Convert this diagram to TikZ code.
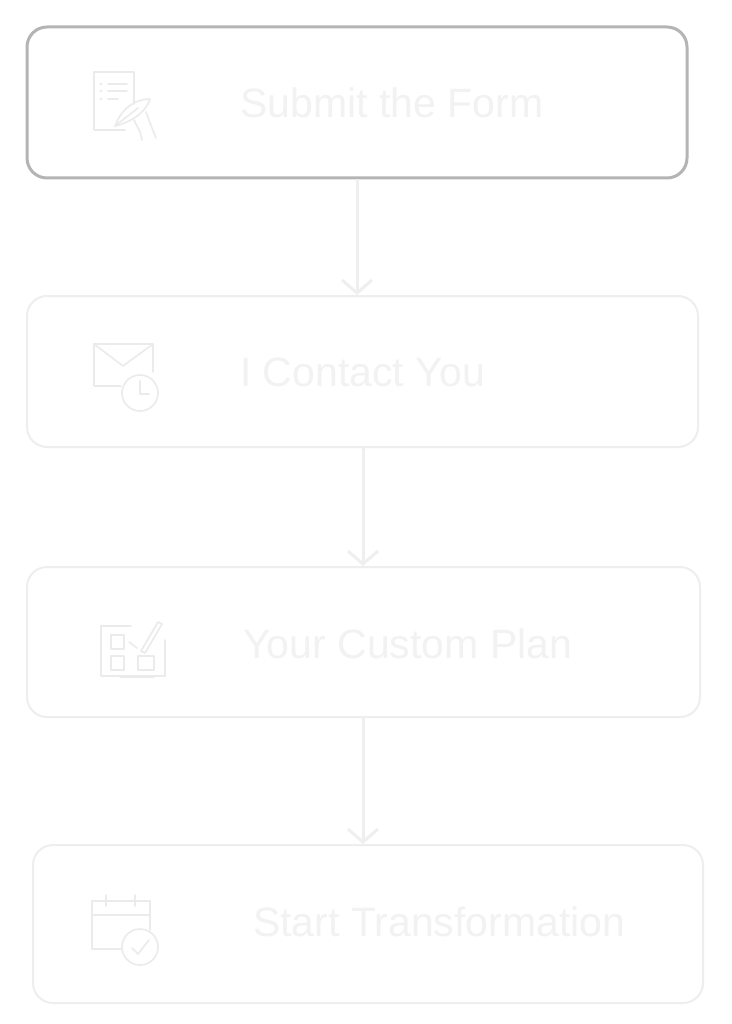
\documentclass[tikz,border=0pt]{standalone}
\usepackage{fontspec}
\setmainfont{Liberation Sans}
\usetikzlibrary{arrows.meta}
\definecolor{boxone}{HTML}{B4B4B4}
\definecolor{boxfaint}{HTML}{EEEEEE}
\definecolor{txtfaint}{HTML}{F2F2F2}
\definecolor{iconfaint}{HTML}{EBEBEB}
\definecolor{arrowfaint}{HTML}{EFEFEF}
\begin{document}
\begin{tikzpicture}[x=1pt,y=-1pt,
  stepbox/.style={draw=boxfaint,line width=2pt,rounded corners=20pt,inner sep=0pt},
  firstbox/.style={stepbox,draw=boxone,line width=3pt},
  steptext/.style={anchor=west,inner sep=0pt,text=txtfaint,font=\fontsize{41}{48}\selectfont},
  icon/.style={draw=iconfaint,line width=1.6pt,line cap=round,line join=round},
  flow/.style={draw=arrowfaint,line width=3pt,-{Straight Barb[length=13pt,width=30pt,line width=3pt]}}]
\useasboundingbox (0,0) rectangle (731,1024);
\fill[white] (0,0) rectangle (731,1024);
% boxes
\node[firstbox,minimum width=660pt,minimum height=151pt] (b1) at (357,102.5) {};
\node[stepbox,minimum width=671pt,minimum height=151pt] (b2) at (362.5,371.5) {};
\node[stepbox,minimum width=673pt,minimum height=150pt] (b3) at (363.5,642) {};
\node[stepbox,minimum width=670pt,minimum height=158pt] (b4) at (368,924) {};
% texts
\node[steptext] (t1) at (240,103) {Submit the Form};
\node[steptext] (t2) at (240,372) {I Contact You};
\node[steptext] (t3) at (243,644) {Your Custom Plan};
\node[steptext] (t4) at (253,922) {Start Transformation};
% connectors
\coordinate (a1s) at (357,178);
\coordinate (a1e) at (357,296);
\coordinate (a2s) at (363,447);
\coordinate (a2e) at (363,566);
\coordinate (a3s) at (363,727);
\coordinate (a3e) at (363,845);
\draw[flow] (b1.south -| a1s) -- (b2.north -| a1e);
\draw[flow] (b2.south -| a2s) -- (b3.north -| a2e);
\draw[flow] (b3.south -| a3s) -- (b4.north -| a3e);
% icon 1: form with pen
\draw[icon] (125,130) -- (94,130) -- (94,72) -- (134,72) -- (134,104);
\draw[icon] (108,84) -- (127,84) (108,91) -- (127,91) (108,99) -- (118,99);
\fill[iconfaint] (101,84) circle (1.5pt) (101,91) circle (1.5pt) (101,99) circle (1.5pt);
\draw[icon] (115,126) .. controls (122,108) and (135,99) .. (150,99) .. controls (146,112) and (132,122) .. (115,126) -- cycle;
\draw[icon] (115,126) -- (138,108);
\draw[icon] (146,112) -- (152,128) -- (156,138) (134,120) -- (140,132) -- (142,140);
% icon 2: envelope and clock
\draw[icon] (121,386) -- (94,386) -- (94,344) -- (153,344) -- (153,372);
\draw[icon] (94,344) -- (123,366) -- (153,344);
\draw[icon] (140,393) circle (18pt);
\draw[icon] (140,381) -- (140,394) -- (149,394);
% icon 3: custom plan
\draw[icon] (131,626) -- (101,626) -- (101,676) -- (165,676) -- (165,640);
\draw[icon] (120,677) -- (154,677);
\draw[icon] (111,635) rectangle (124,649) (111,656) rectangle (124,670) (138,656) rectangle (154,670);
\draw[icon] (141,651) -- (158,622) -- (162,624) -- (145,653) -- cycle;
\draw[icon] (129,642) -- (137,648);
% icon 4: calendar and check
\draw[icon] (122,949) -- (92,949) -- (92,901) -- (150,901) -- (150,930);
\draw[icon] (92,915) -- (150,915);
\draw[icon] (106,895) -- (106,906) (135,895) -- (135,906);
\draw[icon] (140,947) circle (18pt);
\draw[icon] (132,948) -- (138,954) -- (149,940);
\end{tikzpicture}
\end{document}
